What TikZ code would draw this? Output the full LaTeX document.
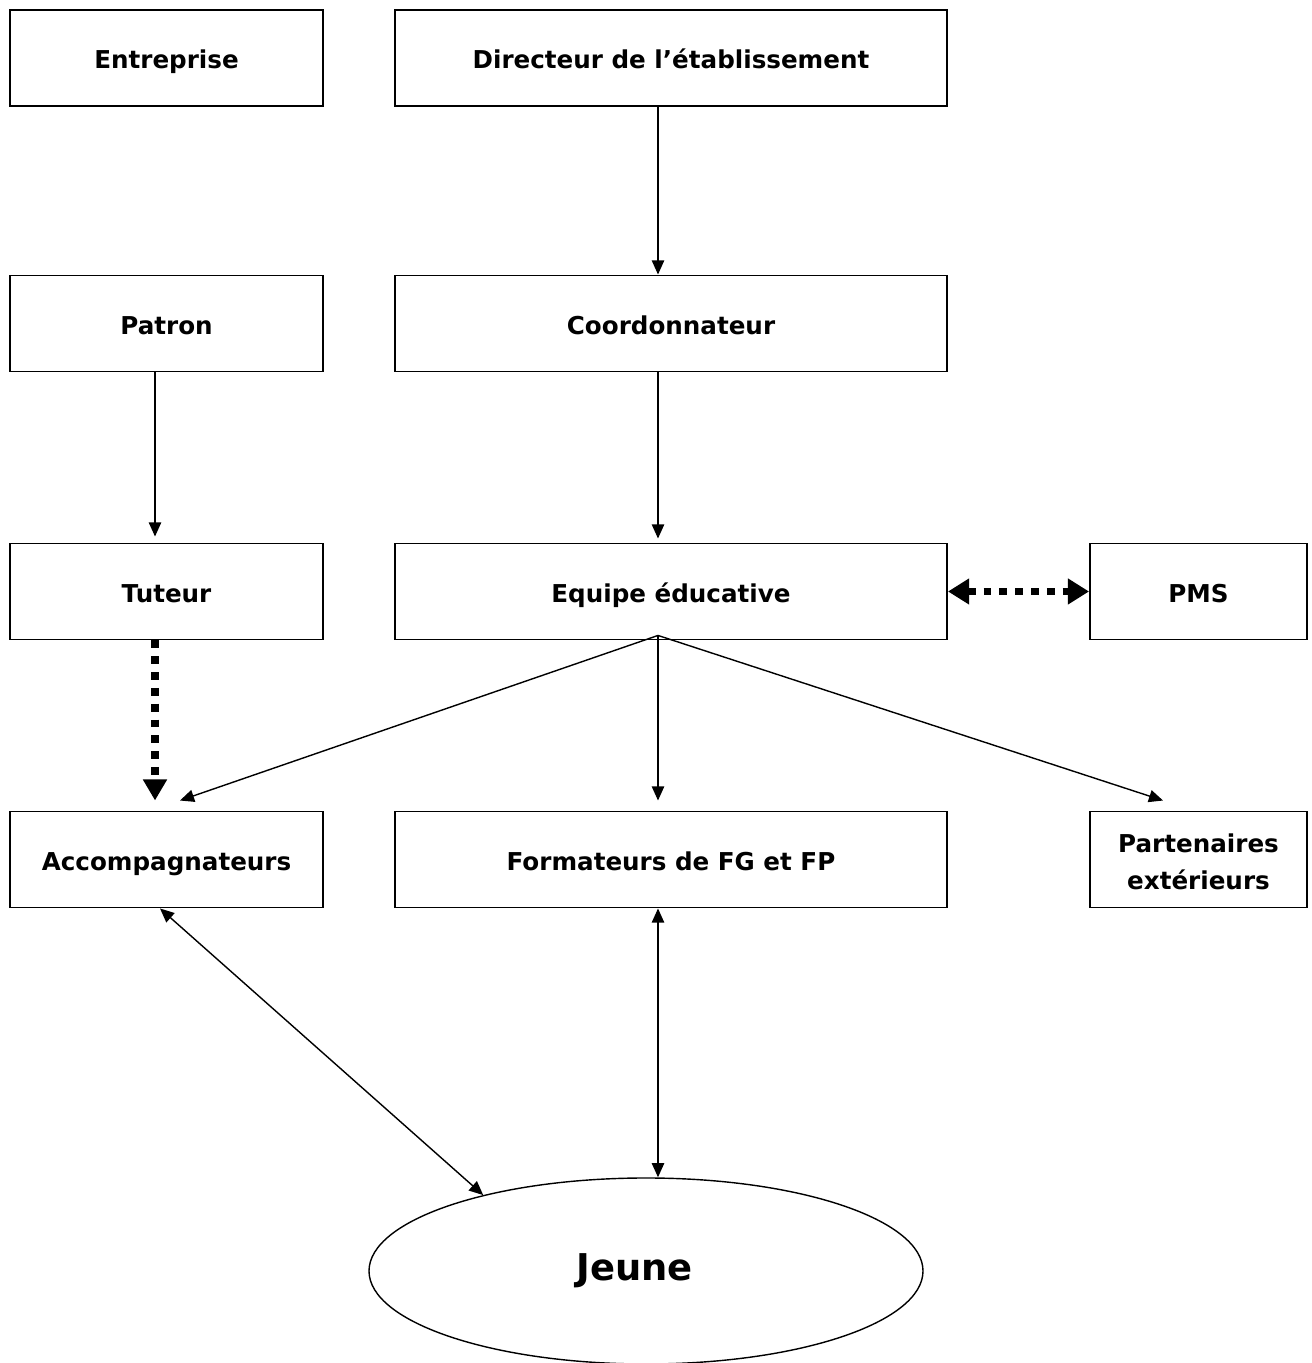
\documentclass[tikz,border=0pt]{standalone}
\usepackage{fontspec}
\setmainfont{DejaVu Sans}
\usetikzlibrary{arrows.meta}
\usetikzlibrary{shapes.geometric}
\tikzset{
  boite/.style={draw, line width=1.1pt, minimum width=6.26cm, minimum height=1.92cm,
                inner sep=0pt, align=center, text height=12pt, text depth=0pt,
                font=\fontsize{14}{21}\selectfont\bfseries},
  large/.style={minimum width=11.04cm},
  petite/.style={minimum width=4.34cm},
  fleche/.style={line width=0.8pt, -{Triangle[length=8pt,width=7pt]}},
  doublefleche/.style={line width=0.8pt, {Triangle[length=8pt,width=7pt]}-{Triangle[length=8pt,width=7pt]}},
  pointille/.style={line width=4.5pt, dash pattern=on 4.5pt off 4.5pt, -{Triangle[length=12pt,width=13pt]}},
  doublepointille/.style={line width=4.5pt, dash pattern=on 4.5pt off 4.5pt,
                {Triangle[length=12pt,width=14pt]}-{Triangle[length=12pt,width=14pt]}},
}
\begin{document}
\begin{tikzpicture}
            % Frame to ensure alignment:
            \useasboundingbox                                                 (0.00, 0.00) rectangle (26.22, 27.26);
            % Entreprise side
            \node[boite]          (entreprise)  at ( 3.33, 26.10) {Entreprise};
            \node[boite]          (patron)      at ( 3.33, 20.79) {Patron};
            \node[boite]          (tuteur)      at ( 3.33, 15.43) {Tuteur};
            \node[boite]          (accomp)      at ( 3.33, 10.07) {Accompagnateurs};
            % School side
            \node[boite, large]   (directeur)   at (13.42, 26.10) {Directeur de l’établissement};
            \node[boite, large]   (coord)       at (13.42, 20.79) {Coordonnateur};
            \node[boite, large]   (equipe)      at (13.42, 15.43) {Equipe éducative};
            \node[boite, large]   (formateurs)  at (13.42, 10.07) {Formateurs de FG et FP};
            % Right column
            \node[boite, petite]  (pms)         at (23.97, 15.43) {PMS};
            \node[boite, petite, text height=34.6pt]
                                  (partenaires) at (23.97, 10.07) {Partenaires\\extérieurs};
            % Jeune
            \node[draw, ellipse, line width=0.8pt, minimum width=11.08cm, minimum height=3.72cm,
                  inner sep=0pt, font=\fontsize{21}{25}\selectfont\bfseries]
                                  (jeune)       at (12.92,  1.84) {Jeune\hspace*{0.45cm}};
            % Hierarchy arrows
            \draw[fleche] ([xshift=-0.26cm]directeur.south) -- ([xshift=-0.26cm]coord.north);
            \draw[fleche] ([xshift=-0.26cm]coord.south)     -- ([xshift=-0.26cm,yshift=0.08cm]equipe.north);
            \draw[fleche] ([xshift=-0.23cm]patron.south)    -- ([xshift=-0.23cm,yshift=0.12cm]tuteur.north);
            \draw[pointille] ([xshift=-0.23cm]tuteur.south) -- ([xshift=-0.23cm,yshift=0.20cm]accomp.north);
            \draw[doublepointille] (equipe.east) -- (pms.west);
            % Fan from Equipe
            \coordinate (depart) at ([xshift=-0.26cm,yshift=0.10cm]equipe.south);
            \draw[fleche] (depart) -- ([xshift= 0.27cm,yshift=0.20cm]accomp.north);
            \draw[fleche] (depart) -- ([xshift=-0.26cm,yshift=0.20cm]formateurs.north);
            \draw[fleche] (depart) -- ([xshift=-0.71cm,yshift=0.20cm]partenaires.north);
            % Towards Jeune
            \draw[doublefleche] ([xshift=-0.13cm]accomp.south)     -- (jeune.155);
            \draw[doublefleche] ([xshift=-0.26cm]formateurs.south) -- ([xshift=0.24cm]jeune.north);
\end{tikzpicture}
\end{document}
